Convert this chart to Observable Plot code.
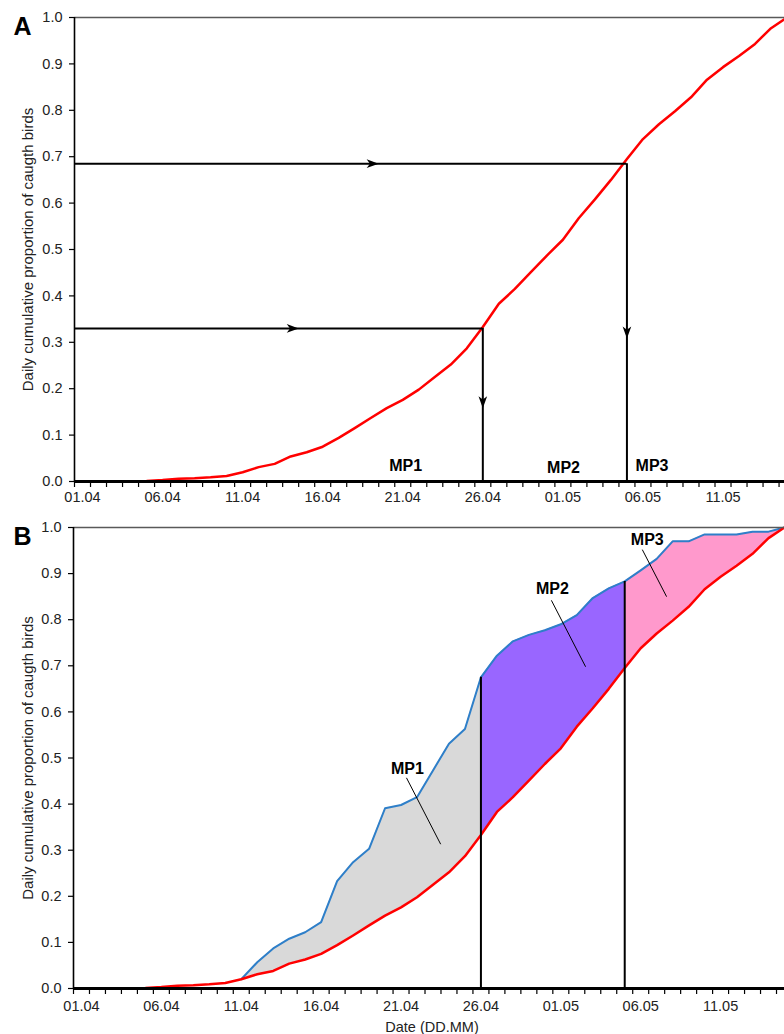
<!DOCTYPE html>
<html><head><meta charset="utf-8">
<script src="https://cdn.jsdelivr.net/npm/d3@7"></script>
<script src="https://cdn.jsdelivr.net/npm/@observablehq/plot@0.6"></script>
<style>
body{margin:0;background:#fff;font-family:"Liberation Sans",Arial,sans-serif;}
#wrap{position:relative;width:784px;height:1034px;overflow:hidden;background:#fff;}
#a{position:absolute;left:0;top:0;}
#b{position:absolute;left:0;top:510px;}
</style></head>
<body><div id="wrap"><div id="a"></div><div id="b"></div></div>
<script>
// day index 0 = 01.04 ... 44 = 15.05
const days = d3.range(45);
const red = [0,0,0,0,0.001,0.003,0.006,0.007,0.009,0.012,0.02,0.031,0.038,0.054,0.063,0.075,0.094,0.115,0.137,0.158,0.176,0.198,0.225,0.252,0.287,0.333,0.383,0.415,0.451,0.487,0.521,0.568,0.608,0.650,0.695,0.738,0.770,0.798,0.828,0.866,0.893,0.917,0.943,0.977,1.0];
const blue = [0,0,0,0,0.001,0.003,0.006,0.007,0.009,0.012,0.02,0.057,0.087,0.108,0.122,0.144,0.233,0.274,0.303,0.391,0.398,0.415,0.473,0.531,0.563,0.675,0.722,0.753,0.767,0.777,0.79,0.81,0.847,0.868,0.883,0.907,0.932,0.970,0.970,0.985,0.985,0.985,0.991,0.991,1.0];
const tickLabels = ["01.04","06.04","11.04","16.04","21.04","26.04","01.05","06.05","11.05"];
const tickDays = [0,5,10,15,20,25,30,35,40];
const yTicks = [0,0.1,0.2,0.3,0.4,0.5,0.6,0.7,0.8,0.9,1.0];
const thresholds = [0.33, 0.685];
const mpDays = [25, 34];
const mpNames = ["MP1","MP2","MP3"];
const yTitle = "Daily cumulative proportion of caugth birds";
const xTitle = "Date (DD.MM)";

const rows = days.map(i => ({day: i, red: red[i], blue: blue[i]}));
const labelMap = new Map(tickDays.map((d, i) => [d, tickLabels[i]]));
const FONT = "'Liberation Sans', Arial, sans-serif";

const arrowSym = {
  draw(ctx, size) {
    const s = Math.sqrt(size / Math.PI);
    ctx.moveTo(s, 0);
    ctx.lineTo(-s, -0.72 * s);
    ctx.lineTo(-0.45 * s, 0);
    ctx.lineTo(-s, 0.72 * s);
    ctx.closePath();
  }
};

function frameMarks(xmax, letter, pad, left) {
  const bounds = days.map(i => i - 0.5).filter(v => v <= xmax);
  return [
    Plot.ruleY([1], {stroke: "#595959", strokeWidth: 1.5}),
    Plot.axisX({ticks: bounds, tickSize: 6, tickFormat: () => "", label: null, stroke: "black", strokeWidth: 1.2}),
    Plot.axisX({ticks: tickDays, tickSize: 0, tickPadding: pad, tickFormat: d => labelMap.get(d), label: null, fontSize: 14.5, fill: "#222"}),
    Plot.axisY({ticks: yTicks, tickSize: 5, tickPadding: 7, tickFormat: d => d.toFixed(1), label: null, fontSize: 14.5, fill: "#222", stroke: "black", strokeWidth: 1.2}),
    Plot.ruleX([-0.5], {stroke: "black", strokeWidth: 1.6}),
    Plot.text([yTitle], {frameAnchor: "left", rotate: -90, dx: 28 - left, textAnchor: "middle", lineAnchor: "middle", fontSize: 15, fill: "#222", text: d => d}),
    Plot.text([letter], {frameAnchor: "top-left", dx: 22 - left, dy: 0, textAnchor: "middle", lineAnchor: "top", fontSize: 25, fontWeight: "bold", fill: "black", text: d => d})
  ];
}

// Panel A
const hLines = thresholds.map((t, i) => ({y: t, x2: mpDays[i]}));
const vLines = thresholds.map((t, i) => ({x: mpDays[i], y2: t}));
const arrowsH = [{x: 13.13, y: thresholds[0]}, {x: 18.12, y: thresholds[1]}];
const arrowsV = [{x: mpDays[0], y: 0.171}, {x: mpDays[1], y: 0.321}];
const labelsA = [{x: 20.18, y: 0.034, t: mpNames[0]}, {x: 30.04, y: 0.030, t: mpNames[1]}, {x: 35.57, y: 0.034, t: mpNames[2]}];

const A = Plot.plot({
  width: 784, height: 510,
  marginTop: 17, marginBottom: 29, marginLeft: 74, marginRight: 0,
  x: {domain: [-0.5, 43.84]},
  y: {domain: [0, 1]},
  style: {fontFamily: FONT, fontSize: "14.5px", color: "black", background: "white"},
  marks: [
    Plot.line(rows, {x: "day", y: "red", stroke: "#ff0000", strokeWidth: 2.5}),
    Plot.ruleY(hLines, {y: "y", x1: -0.5, x2: "x2", stroke: "black", strokeWidth: 2}),
    Plot.ruleX(vLines, {x: "x", y1: 0, y2: "y2", stroke: "black", strokeWidth: 2}),
    Plot.dot(arrowsH, {x: "x", y: "y", symbol: arrowSym, r: 6, fill: "black", stroke: "none"}),
    Plot.dot(arrowsV, {x: "x", y: "y", symbol: arrowSym, r: 6, fill: "black", stroke: "none", rotate: 90}),
    Plot.ruleY([0], {stroke: "black", strokeWidth: 3}),
    Plot.text(labelsA, {x: "x", y: "y", text: "t", fontSize: 16, fontWeight: "bold", fill: "black"}),
    ...frameMarks(43.84, "A", 10, 74)
  ]
});
document.getElementById("a").append(A);

// Panel B
const leaders = [
  {x1: 20.34, y1: 0.457, x2: 22.48, y2: 0.313},
  {x1: 29.41, y1: 0.842, x2: 31.55, y2: 0.698},
  {x1: 35.10, y1: 0.952, x2: 36.62, y2: 0.850}
];
const labelsB = [{x: 20.4, y: 0.477, t: mpNames[0]}, {x: 29.47, y: 0.867, t: mpNames[1]}, {x: 35.41, y: 0.973, t: mpNames[2]}];
const vB = mpDays.map(d => ({x: d, y2: blue[d]}));

const B = Plot.plot({
  width: 784, height: 524,
  marginTop: 17, marginBottom: 46, marginLeft: 73, marginRight: 0,
  x: {domain: [-0.5, 44.0]},
  y: {domain: [0, 1]},
  style: {fontFamily: FONT, fontSize: "14.5px", color: "black", background: "white"},
  marks: [
    Plot.areaY(rows.filter(d => d.day <= mpDays[0]), {x: "day", y1: "red", y2: "blue", fill: "#d9d9d9"}),
    Plot.areaY(rows.filter(d => d.day >= mpDays[0] && d.day <= mpDays[1]), {x: "day", y1: "red", y2: "blue", fill: "#9966ff"}),
    Plot.areaY(rows.filter(d => d.day >= mpDays[1]), {x: "day", y1: "red", y2: "blue", fill: "#ff99cc"}),
    Plot.line(rows.filter(d => d.day >= 10), {x: "day", y: "blue", stroke: "#2e7fc9", strokeWidth: 2}),
    Plot.line(rows, {x: "day", y: "red", stroke: "#ff0000", strokeWidth: 2.5}),
    Plot.ruleX(vB, {x: "x", y1: 0, y2: "y2", stroke: "black", strokeWidth: 2}),
    Plot.link(leaders, {x1: "x1", y1: "y1", x2: "x2", y2: "y2", stroke: "black", strokeWidth: 1}),
    Plot.text(labelsB, {x: "x", y: "y", text: "t", fontSize: 16, fontWeight: "bold", fill: "black"}),
    Plot.ruleY([0], {stroke: "black", strokeWidth: 3}),
    Plot.text([xTitle], {frameAnchor: "bottom", dy: 39, dx: 3, textAnchor: "middle", lineAnchor: "middle", fontSize: 14.5, fill: "#222", text: d => d}),
    ...frameMarks(44.0, "B", 12, 73)
  ]
});
document.getElementById("b").append(B);
</script>
</body></html>
